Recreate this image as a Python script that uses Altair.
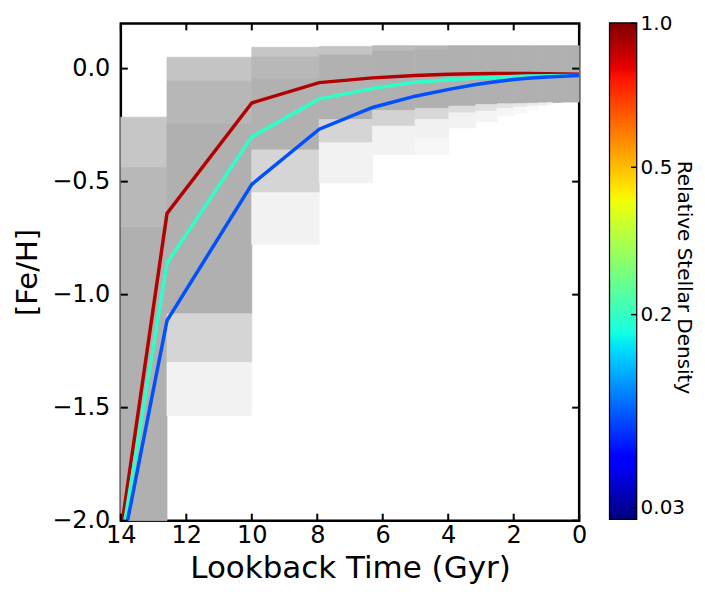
import altair as alt
import pandas as pd

# ---------------- data ----------------
# lookback-time bin edges (Gyr) of the grey 2-D histogram
age_edges = [14.0, 12.59, 10.0, 7.94, 6.31, 5.01, 3.98, 3.16, 2.51, 2.00,
             1.58, 1.26, 1.00, 0.79, 0.63, 0.50, 0.0]
# [Fe/H] boundaries of the grey cells in each age column (top to bottom)
col_bounds = [
    [-0.215, -0.438, -0.703, -2.0],
    [0.050, -0.056, -0.244, -1.085, -1.300, -1.535],
    [0.094, 0.051, -0.044, -0.360, -0.549, -0.777],
    [0.098, 0.060, -0.225, -0.328, -0.505],
    [0.101, 0.078, -0.185, -0.255, -0.380],
    [0.101, 0.085, -0.176, -0.225, -0.306, -0.380],
    [0.101, -0.166, -0.196, -0.262],
    [0.101, -0.159, -0.188, -0.235],
    [0.101, -0.156, -0.176, -0.210],
    [0.101, -0.155, -0.170, -0.196],
    [0.101, -0.153, -0.166, -0.185],
    [0.101, -0.152, -0.162],
    [0.101, -0.151, -0.158],
    [0.101, -0.150],
    [0.101, -0.149],
    [0.101, -0.148],
]
col_shades = [
    ["#c6c6c6", "#b8b8b8", "#b0b0b0"],
    ["#c4c4c4", "#b7b7b7", "#b0b0b0", "#d5d5d5", "#f2f2f2"],
    ["#c6c6c6", "#b8b8b8", "#b1b1b1", "#d5d5d5", "#f2f2f2"],
    ["#c4c4c4", "#b1b1b1", "#d5d5d5", "#f2f2f2"],
    ["#bababa", "#b0b0b0", "#d3d3d3", "#f2f2f2"],
    ["#b8b8b8", "#b0b0b0", "#d8d8d8", "#f0f0f0", "#f7f7f7"],
    ["#b0b0b0", "#dcdcdc", "#f2f2f2"],
    ["#b0b0b0", "#e0e0e0", "#f4f4f4"],
    ["#b0b0b0", "#e4e4e4", "#f6f6f6"],
    ["#b0b0b0", "#e8e8e8", "#f8f8f8"],
    ["#b0b0b0", "#ececec", "#fafafa"],
    ["#b0b0b0", "#f0f0f0"],
    ["#b0b0b0", "#f4f4f4"],
    ["#b0b0b0"],
    ["#b0b0b0"],
    ["#b0b0b0"],
]

# density contour lines
line_ages = [14.0, 12.59, 10.0, 7.94, 6.31, 5.01, 3.98, 3.16, 2.51, 2.00, 1.58, 1.00, 0.0]
feh_red = [-2.05, -0.641, -0.152, -0.062, -0.041, -0.031, -0.025, -0.023, -0.022, -0.022, -0.022, -0.023, -0.025]
feh_cyan = [-2.11, -0.86, -0.302, -0.134, -0.088, -0.060, -0.049, -0.042, -0.038, -0.035, -0.033, -0.032, -0.030]
feh_blue = [-2.15, -1.115, -0.512, -0.268, -0.172, -0.122, -0.092, -0.070, -0.057, -0.048, -0.043, -0.037, -0.030]
series_names = ["red", "cyan", "blue"]
series_colors = ["#b30000", "#2effc8", "#0050ff"]
series_values = [feh_red, feh_cyan, feh_blue]

x_ticks = [14, 12, 10, 8, 6, 4, 2, 0]
y_ticks = [0.0, -0.5, -1.0, -1.5, -2.0]

# colour bar (jet) stops and tick labels
jet_offsets = [0.0, 0.11, 0.125, 0.34, 0.35, 0.375, 0.64, 0.65, 0.66, 0.89, 0.91, 1.0]
jet_colors = ["#000080", "#0000ff", "#0000ff", "#00dbff", "#00e5f7", "#14ffe2",
              "#eeff08", "#f7f500", "#ffec00", "#ff1300", "#e80000", "#800000"]
cb_tick_pos = [1.0, 0.7095, 0.412, 0.022]
cb_tick_labels = ["1.0", "0.5", "0.2", "0.03"]

# ---------------- tables ----------------
cells = []
for i, (bnds, shades) in enumerate(zip(col_bounds, col_shades)):
    for j, shade in enumerate(shades):
        cells.append({"x1": age_edges[i], "x2": age_edges[i + 1],
                      "y1": bnds[j], "y2": bnds[j + 1], "shade": shade})
cells_df = pd.DataFrame(cells)

lines_df = pd.DataFrame(
    [{"age": a, "feh": v, "series": s, "k": k}
     for s, vals in zip(series_names, series_values)
     for k, (a, v) in enumerate(zip(line_ages, vals))]
)
xt_df = pd.DataFrame({"t": x_ticks})
yt_df = pd.DataFrame({"f": y_ticks})
cbt_df = pd.DataFrame({"p": cb_tick_pos})
cb_df = pd.DataFrame({"lo": [0.0], "hi": [1.0]})

W, H = 459, 498
CBW, CBH = 26, 496
TL = 7
FONT = "DejaVu Sans"

xscale = alt.Scale(domain=[0, 14], reverse=True, nice=False, zero=False)
yscale = alt.Scale(domain=[-2.0, 0.2], nice=False, zero=False)

xaxis = alt.Axis(values=x_ticks, format="d", title="Lookback Time (Gyr)",
                 labelFontSize=24, titleFontSize=31, labelPadding=3, titlePadding=6,
                 labelFlush=False, ticks=False, domain=False, grid=False,
                 titleFontWeight="normal", labelColor="black", titleColor="black")
yaxis = alt.Axis(values=y_ticks, format=".1f", title="[Fe/H]",
                 labelFontSize=24, titleFontSize=29, labelPadding=11, titlePadding=9,
                 ticks=False, domain=False, grid=False,
                 titleFontWeight="normal", labelColor="black", titleColor="black")

rects = alt.Chart(cells_df).mark_rect(strokeWidth=0.8).encode(
    x=alt.X("x1:Q", scale=xscale, axis=xaxis),
    x2="x2:Q",
    y=alt.Y("y1:Q", scale=yscale, axis=yaxis),
    y2="y2:Q",
    color=alt.Color("shade:N", scale=None),
    stroke=alt.Stroke("shade:N", scale=None),
)

line_layers = []
for s, c in zip(series_names, series_colors):
    line_layers.append(
        alt.Chart(lines_df).transform_filter(alt.datum.series == s)
        .mark_line(color=c, strokeWidth=3.5, clip=True)
        .encode(x=alt.X("age:Q", scale=xscale), y=alt.Y("feh:Q", scale=yscale),
                order="k:Q")
    )

tick_bottom = alt.Chart(xt_df).mark_rule(color="black", strokeWidth=2).encode(
    x=alt.X("t:Q", scale=xscale), y=alt.value(H), y2=alt.value(H - TL))
tick_top = alt.Chart(xt_df).mark_rule(color="black", strokeWidth=2).encode(
    x=alt.X("t:Q", scale=xscale), y=alt.value(0), y2=alt.value(TL))
tick_left = alt.Chart(yt_df).mark_rule(color="black", strokeWidth=2).encode(
    y=alt.Y("f:Q", scale=yscale), x=alt.value(0), x2=alt.value(TL))
tick_right = alt.Chart(yt_df).mark_rule(color="black", strokeWidth=2).encode(
    y=alt.Y("f:Q", scale=yscale), x=alt.value(W), x2=alt.value(W - TL))

main = alt.layer(rects, *line_layers, tick_bottom, tick_top, tick_left, tick_right).properties(
    width=W, height=H)

# colour bar
grad = alt.Gradient(
    gradient="linear",
    stops=[alt.GradientStop(offset=o, color=c) for o, c in zip(jet_offsets, jet_colors)],
    x1=0, x2=0, y1=1, y2=0,
)
label_expr = ""
for p, lab in zip(cb_tick_pos[:-1], cb_tick_labels[:-1]):
    label_expr += f"abs(datum.value - {p}) < 0.01 ? '{lab}' : "
label_expr += f"'{cb_tick_labels[-1]}'"

cbscale = alt.Scale(domain=[0, 1], nice=False, zero=False)
cbaxis = alt.Axis(orient="right", values=cb_tick_pos, labelExpr=label_expr,
                  labelFontSize=20, labelPadding=4, ticks=False, domain=False, grid=False,
                  title="Relative Stellar Density", titleFontSize=20, titleFontWeight="normal",
                  titleAngle=90, titleX=47, titleY=254, titleAlign="center",
                  titleBaseline="middle", labelColor="black", titleColor="black")
cbar_rect = alt.Chart(cb_df).mark_rect(color=grad).encode(
    y=alt.Y("lo:Q", scale=cbscale, axis=cbaxis), y2="hi:Q",
    x=alt.value(0), x2=alt.value(CBW))
cbar_ticks = alt.Chart(cbt_df).mark_rule(color="black", strokeWidth=1.5).encode(
    y=alt.Y("p:Q", scale=cbscale), x=alt.value(CBW), x2=alt.value(CBW - 5))
cbar = alt.layer(cbar_rect, cbar_ticks).properties(width=CBW, height=CBH)

chart = alt.hconcat(main, cbar, spacing=31, bounds="flush").configure(
    font=FONT, padding={"left": 4, "top": 3, "right": 2, "bottom": 2}
).configure_view(stroke="black", strokeWidth=2.5)

chart.save("out.html", embed_options={"renderer": "svg", "actions": False})
